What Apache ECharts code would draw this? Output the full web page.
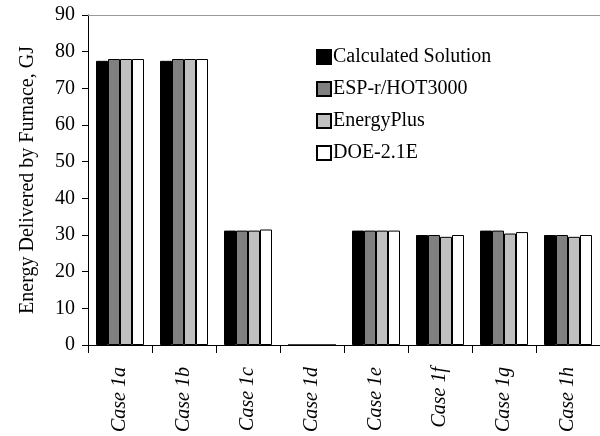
<!DOCTYPE html>
<html><head><meta charset="utf-8">
<script src="https://cdn.jsdelivr.net/npm/echarts@6/dist/echarts.min.js"></script>
<style>html,body{margin:0;padding:0;background:#fff}#c{width:600px;height:436px}</style>
</head><body><div id="c"></div>
<script>
var categories = ['Case 1a','Case 1b','Case 1c','Case 1d','Case 1e','Case 1f','Case 1g','Case 1h'];
var calculated = [77.5, 77.5, 31.2, 0, 31.2, 30.0, 31.2, 30.0];
var espr = [78.0, 78.0, 31.2, 0, 31.2, 30.0, 31.2, 30.0];
var energyPlus = [78.0, 78.0, 31.2, 0, 31.2, 29.5, 30.4, 29.5];
var doe = [78.0, 78.0, 31.5, 0, 31.2, 30.0, 30.8, 30.0];
var seriesNames = ['Calculated Solution','ESP-r/HOT3000','EnergyPlus','DOE-2.1E'];
var colors = ['#000000','#808080','#c0c0c0','#ffffff'];
var yTicks = [0,10,20,30,40,50,60,70,80,90];

var chart = echarts.init(document.getElementById('c'));
var font = 'Liberation Serif, Times New Roman, serif';
var data = [calculated, espr, energyPlus, doe];
chart.setOption({
  animation:false,
  textStyle:{fontFamily:font},
  grid:{left:88,right:0,top:15,bottom:91},
  legend:{orient:'vertical',left:311,top:42,itemGap:12,itemWidth:14,itemHeight:14,
    icon:'rect',
    textStyle:{fontFamily:font,fontSize:20,color:'#000',padding:[0,0,0,-3]},
    data:seriesNames},
  xAxis:[{type:'category',data:categories,
    axisLine:{lineStyle:{color:'#000',width:1}},
    axisTick:{show:true,length:8,lineStyle:{color:'#000'}},
    axisLabel:{rotate:90,fontStyle:'italic',fontSize:20,color:'#000',fontFamily:font,margin:22}},
    {type:'category',position:'top',data:categories,axisLine:{lineStyle:{color:'#999'}},axisTick:{show:false},axisLabel:{show:false}}],
  yAxis:{type:'value',min:yTicks[0],max:yTicks[yTicks.length-1],interval:10,
    axisLine:{show:true,lineStyle:{color:'#000'}},
    axisTick:{show:true,length:6,lineStyle:{color:'#000'}},
    splitLine:{show:false},
    axisLabel:{fontSize:20,color:'#000',fontFamily:font,margin:13},
    name:'Energy Delivered by Furnace, GJ',nameLocation:'middle',nameGap:50,
    nameTextStyle:{fontSize:20,color:'#000',fontFamily:font}},
  series:seriesNames.map(function(n,i){return {name:n,type:'bar',data:data[i],
    barGap:'0%',barCategoryGap:'25%',
    itemStyle:{color:colors[i],borderColor:'#000',borderWidth:1}};})
});
</script></body></html>
